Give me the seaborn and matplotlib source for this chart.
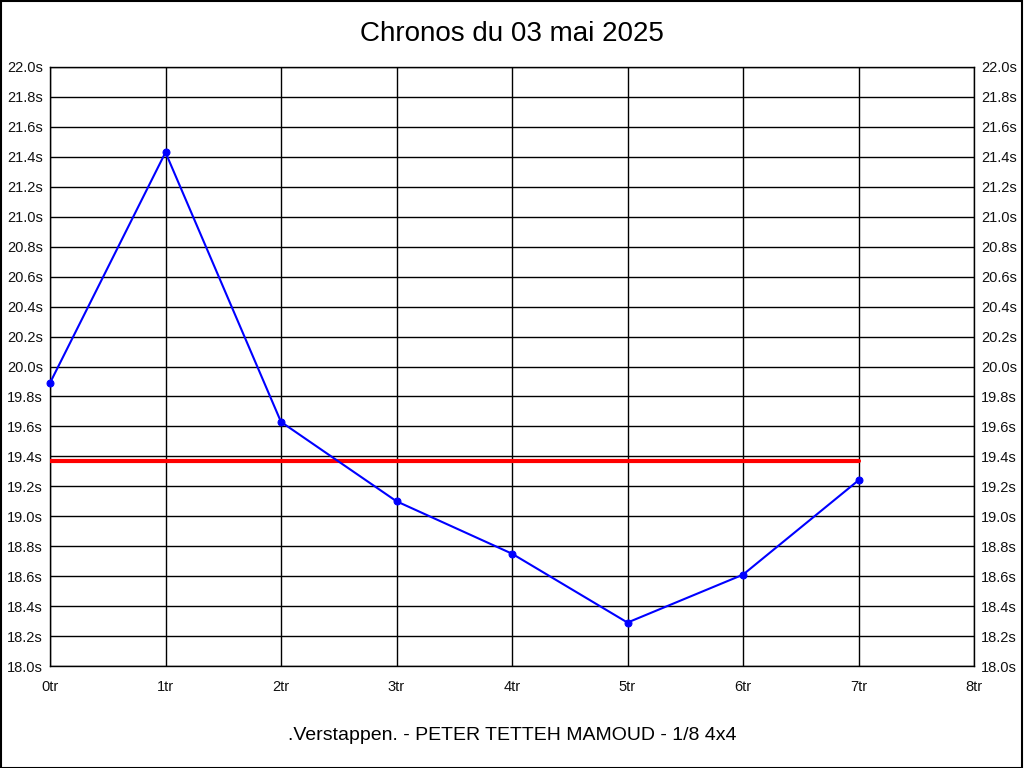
import numpy as np
import pandas as pd
import matplotlib
matplotlib.use("Agg")
import matplotlib.pyplot as plt
import seaborn as sns

# lap times
laps = [0, 1, 2, 3, 4, 5, 6, 7]
times = [19.89, 21.43, 19.63, 19.10, 18.75, 18.29, 18.61, 19.24]
mean_time = 19.37
x_ticks = [0, 1, 2, 3, 4, 5, 6, 7, 8]
y_ticks = [18.0, 18.2, 18.4, 18.6, 18.8, 19.0, 19.2, 19.4, 19.6, 19.8,
           20.0, 20.2, 20.4, 20.6, 20.8, 21.0, 21.2, 21.4, 21.6, 21.8, 22.0]
title = "Chronos du 03 mai 2025"
footer = ".Verstappen. - PETER TETTEH MAMOUD - 1/8 4x4"

sns.set_style("white")
plt.rcParams['font.family'] = ['Liberation Sans', 'DejaVu Sans']
plt.rcParams['text.color'] = 'black'

df = pd.DataFrame({"lap": laps, "time": times})

fig = plt.figure(figsize=(10.24, 7.68), dpi=100)
fig.patch.set_facecolor("white")
ax = fig.add_axes([50 / 1024, 102 / 768, 924 / 1024, 599 / 768])

ax.set_xlim(0, 8)
ax.set_ylim(18.0, 22.0)
ax.set_xticks(x_ticks)
ax.set_yticks(y_ticks)
ax.set_xticklabels([f"{t}tr" for t in x_ticks], fontsize=10.5)
ax.set_yticklabels([f"{t:.1f}s" for t in y_ticks], fontsize=10.5)
ax.tick_params(axis="both", length=0, colors="#111111")
ax.tick_params(axis="x", pad=10)
ax.tick_params(axis="y", pad=5, labelright=True, right=False)
ax.grid(True, color="black", linewidth=1)
for s in ax.spines.values():
    s.set_color("black")
    s.set_linewidth(1)

ax.plot([laps[0], laps[-1]], [mean_time, mean_time], color="red", linewidth=3, zorder=3)
sns.lineplot(data=df, x="lap", y="time", ax=ax, color="blue", linewidth=1.5,
             marker="o", markersize=5, markeredgecolor="blue", zorder=4, clip_on=False)
ax.set_xlabel("")
ax.set_ylabel("")

fig.text(0.5, 1 - 34 / 768, title, ha="center", va="center", fontsize=20, color="black")
fig.text(0.5, 1 - 735 / 768, footer, ha="center", va="center", fontsize=14, color="black")

border = plt.Rectangle((0.0005, 0.0005), 0.998, 0.998, transform=fig.transFigure,
                       fill=False, edgecolor="black", linewidth=1.5)
fig.patches.append(border)

fig.savefig("out.png", dpi=100)
